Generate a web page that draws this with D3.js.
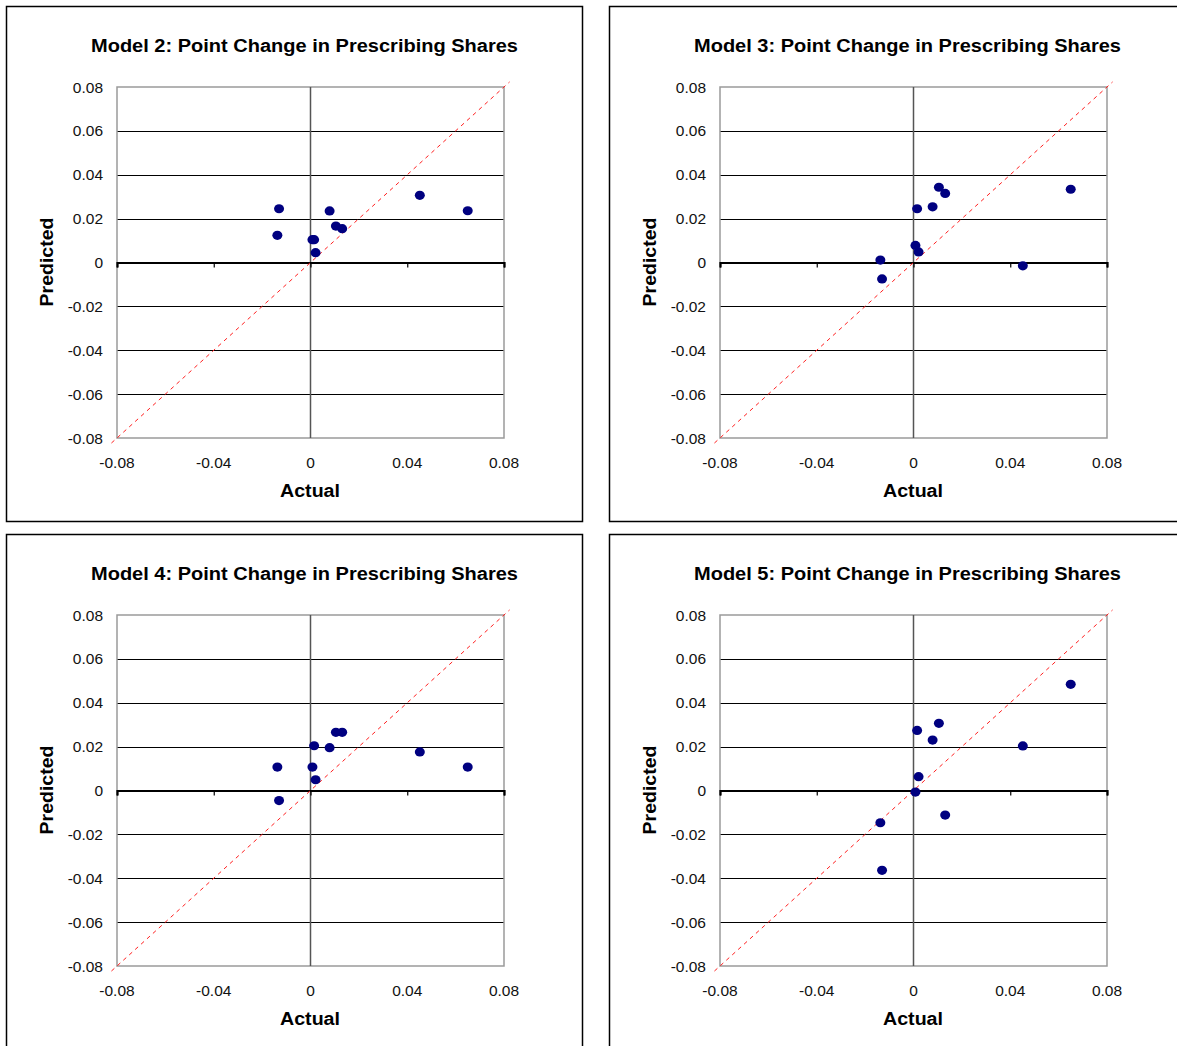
<!DOCTYPE html>
<html>
<head>
<meta charset="utf-8">
<script src="https://cdn.jsdelivr.net/npm/d3@7"></script>
<style>
  body { margin: 0; background: #fff; }
  svg { display: block; font-family: "Liberation Sans", Arial, sans-serif; }
</style>
</head>
<body>
<div class="canvas"></div>
<script>
// actual change, shared by every model
const actual = [-0.0137, -0.0130, 0.0008, 0.0015, 0.0021, 0.0079, 0.0105, 0.0131, 0.0452, 0.0650];

// predicted change per model
const model2 = [0.0124, 0.0245, 0.0104, 0.0104, 0.0045, 0.0235, 0.0166, 0.0154, 0.0306, 0.0236];
const model3 = [0.0011, -0.0075, 0.0078, 0.0245, 0.0048, 0.0254, 0.0343, 0.0315, -0.0015, 0.0334];
const model4 = [0.0107, -0.0046, 0.0107, 0.0204, 0.0049, 0.0195, 0.0265, 0.0265, 0.0176, 0.0107];
const model5 = [-0.0147, -0.0364, -0.0007, 0.0274, 0.0063, 0.0230, 0.0306, -0.0112, 0.0203, 0.0484];

const titles = ['Model 2: Point Change in Prescribing Shares', 'Model 3: Point Change in Prescribing Shares',
    'Model 4: Point Change in Prescribing Shares', 'Model 5: Point Change in Prescribing Shares'];

const ticksY = [-0.08, -0.06, -0.04, -0.02, 0, 0.02, 0.04, 0.06, 0.08];
const ticksX = [-0.08, -0.04, 0, 0.04, 0.08];
const diagonal = [-0.0823, 0.0823];

const panels = [
    { title: titles[0], values: model2, dx: 0, dy: 0 },
    { title: titles[1], values: model3, dx: 603, dy: 0 },
    { title: titles[2], values: model4, dx: 0, dy: 528 },
    { title: titles[3], values: model5, dx: 603, dy: 528 }
];

const dimension = { width: 1177, height: 1046 };
const plot = { left: 117, top: 87, width: 387, height: 351 };

const svg = d3.select('.canvas')
    .append('svg')
    .attr('width', dimension.width)
    .attr('height', dimension.height);

const x = d3.scaleLinear().domain([-0.08, 0.08]).range([0, plot.width]);
const y = d3.scaleLinear().domain([-0.08, 0.08]).range([plot.height, 0]);

// excel style labels: plain hyphen, bare zero
const fmt = d => d === 0 ? '0' : d.toFixed(2);

panels.forEach(p => {
    const g = svg.append('g')
        .attr('transform', `translate(${p.dx}, ${p.dy})`);

    // chart frame
    g.append('rect')
        .attr('x', 6.5).attr('y', 6.5)
        .attr('width', 576).attr('height', 515)
        .attr('fill', '#fff')
        .attr('stroke', '#000')
        .attr('stroke-width', 1.5);

    g.append('text')
        .attr('x', 304.5).attr('y', 52)
        .attr('text-anchor', 'middle')
        .attr('font-size', 18).attr('font-weight', 'bold')
        .attr('textLength', 427).attr('lengthAdjust', 'spacingAndGlyphs')
        .text(p.title);

    const graph = g.append('g')
        .attr('transform', `translate(${plot.left}, ${plot.top})`);

    // horizontal gridlines
    graph.selectAll('line.grid')
        .data(ticksY.filter(d => d !== 0 && Math.abs(d) !== 0.08))
        .enter().append('line')
            .attr('class', 'grid')
            .attr('x1', 0).attr('x2', plot.width)
            .attr('y1', d => Math.round(y(d)) + 0.5).attr('y2', d => Math.round(y(d)) + 0.5)
            .attr('stroke', '#000').attr('stroke-width', 1);

    // plot border
    graph.append('rect')
        .attr('x', 0).attr('y', 0)
        .attr('width', plot.width).attr('height', plot.height)
        .attr('fill', 'none')
        .attr('stroke', '#9a9a9a').attr('stroke-width', 1.5);

    // vertical axis at x = 0
    graph.append('line')
        .attr('x1', x(0)).attr('x2', x(0))
        .attr('y1', 0).attr('y2', plot.height)
        .attr('stroke', '#555').attr('stroke-width', 1.5);

    // horizontal axis at y = 0 with its ticks
    const xAxis = d3.axisBottom(x).tickValues(ticksX).tickSize(5).tickFormat('');
    graph.append('g')
        .attr('transform', `translate(0, ${y(0)})`)
        .call(xAxis)
        .call(a => a.select('.domain').attr('stroke', '#000').attr('stroke-width', 2.2))
        .call(a => a.selectAll('.tick line').attr('stroke', '#000').attr('stroke-width', 1.2));

    // tick labels
    graph.selectAll('text.ylab')
        .data(ticksY)
        .enter().append('text')
            .attr('class', 'ylab')
            .attr('x', -14).attr('y', d => y(d) + 5.5)
            .attr('text-anchor', 'end')
            .attr('font-size', 15.5).attr('fill', '#111')
            .text(fmt);

    graph.selectAll('text.xlab')
        .data(ticksX)
        .enter().append('text')
            .attr('class', 'xlab')
            .attr('x', d => x(d)).attr('y', plot.height + 30)
            .attr('text-anchor', 'middle')
            .attr('font-size', 15.5).attr('fill', '#111')
            .text(fmt);

    // 45 degree reference line
    graph.append('line')
        .attr('x1', x(diagonal[0])).attr('y1', y(diagonal[0]))
        .attr('x2', x(diagonal[1])).attr('y2', y(diagonal[1]))
        .attr('stroke', '#ff2020').attr('stroke-width', 1)
        .attr('stroke-dasharray', '4,4');

    graph.selectAll('ellipse')
        .data(actual.map((a, i) => ({ a, v: p.values[i] })))
        .enter().append('ellipse')
            .attr('cx', d => x(d.a)).attr('cy', d => y(d.v))
            .attr('rx', 5).attr('ry', 4.6)
            .attr('fill', '#000080');

    g.append('text')
        .attr('x', 310).attr('y', 497)
        .attr('text-anchor', 'middle')
        .attr('font-size', 18).attr('font-weight', 'bold')
        .attr('textLength', 60).attr('lengthAdjust', 'spacingAndGlyphs')
        .text('Actual');

    g.append('text')
        .attr('transform', 'translate(53, 262) rotate(-90)')
        .attr('text-anchor', 'middle')
        .attr('font-size', 18).attr('font-weight', 'bold')
        .attr('textLength', 89).attr('lengthAdjust', 'spacingAndGlyphs')
        .text('Predicted');
});
</script>
</body>
</html>
